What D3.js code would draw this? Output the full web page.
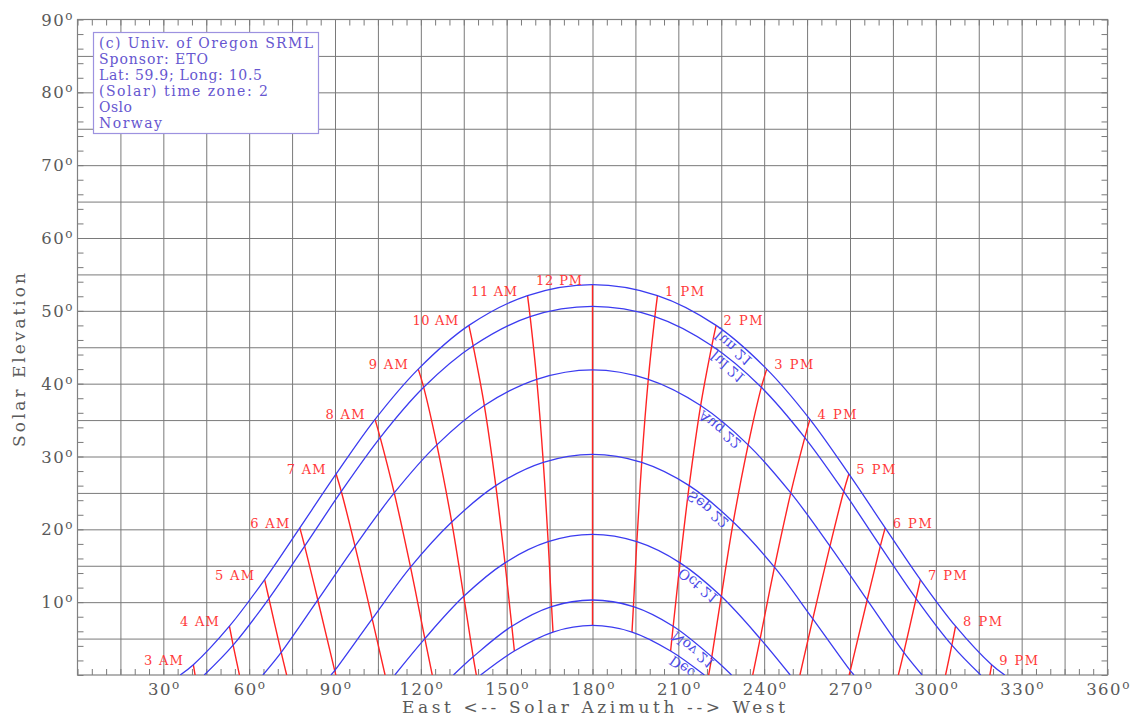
<!DOCTYPE html>
<html><head><meta charset="utf-8">
<script src="https://d3js.org/d3.v7.min.js"></script>
<style>
html,body{margin:0;padding:0;background:#fff;}
svg{display:block;}
text{font-family:"DejaVu Serif","Liberation Serif",serif;}
</style></head>
<body>
<svg id="chart" width="1137" height="719"></svg>
<script>
// ---------- data ----------
const hourLabels = ["3 AM","4 AM","5 AM","6 AM","7 AM","8 AM","9 AM","10 AM","11 AM","12 PM",
                    "1 PM","2 PM","3 PM","4 PM","5 PM","6 PM","7 PM","8 PM","9 PM"];
const dateLabels = ["Jun 21","Jul 21","Aug 22","Sep 22","Oct 21","Nov 21","Dec 21"];

// azimuth / elevation (degrees) of the sun at each hour, per date (null = below horizon)
const azJun = [40.5,53.1,65.4,77.7,90.4,104.0,119.1,136.8,157.3,180.0,202.7,223.2,240.9,256.0,269.6,282.3,294.6,306.9,319.5];
const elJun = [1.4,6.7,13.1,20.2,27.6,35.1,42.0,48.0,52.1,53.6,52.1,48.0,42.0,35.1,27.6,20.2,13.1,6.7,1.4];
const azJul = [null,54.4,66.9,79.4,92.2,105.8,121.0,138.3,158.2,180.0,201.8,221.7,239.0,254.2,267.8,280.6,293.1,305.6,null];
const elJul = [null,4.1,10.5,17.7,25.2,32.6,39.5,45.2,49.2,50.6,49.2,45.2,39.5,32.6,25.2,17.7,10.5,4.1,null];
const azAug = [null,null,71.2,84.0,97.0,110.7,125.6,142.2,160.5,180.0,199.5,217.8,234.4,249.3,263.0,276.0,288.8,null,null];
const elAug = [null,null,3.1,10.3,17.7,25.0,31.6,37.0,40.6,41.9,40.6,37.0,31.6,25.0,17.7,10.3,3.1,null,null];
const azSep = [null,null,null,89.9,103.0,116.4,130.8,146.2,162.8,180.0,197.2,213.8,229.2,243.6,257.0,270.1,null,null,null];
const elSep = [null,null,null,0.6,7.7,14.8,21.0,26.0,29.2,30.3,29.2,26.0,21.0,14.8,7.7,0.6,null,null,null];
const azOct = [null,null,null,null,null,121.4,135.0,149.4,164.5,180.0,195.5,210.6,225.0,238.6,null,null,null,null,null];
const elOct = [null,null,null,null,null,5.0,10.8,15.4,18.3,19.3,18.3,15.4,10.8,5.0,null,null,null,null,null];
const azNov = [null,null,null,null,null,null,138.3,151.8,165.7,180.0,194.3,208.2,221.7,null,null,null,null,null,null];
const elNov = [null,null,null,null,null,null,2.5,6.7,9.4,10.3,9.4,6.7,2.5,null,null,null,null,null,null];
const azDec = [null,null,null,null,null,null,null,152.7,166.2,180.0,193.8,207.3,null,null,null,null,null,null,null];
const elDec = [null,null,null,null,null,null,null,3.3,5.9,6.8,5.9,3.3,null,null,null,null,null,null,null];

// sunrise / sunset azimuths per date (elevation 0)
const sunriseAz = [35.9,44.3,64.8,88.6,110.9,131.4,140.9];
const sunsetAz  = [324.1,315.7,295.2,271.4,249.1,228.6,219.1];
// azimuth where each hour line meets the horizon (null = ends on the Dec 21 curve)
const hourHorizonAz = [41.1,56.6,73.1,90.3,107.5,124.0,139.4,null,null,null,null,null,220.6,236.0,252.5,269.7,286.9,303.4,318.9];

const xTickLabels = [30,60,90,120,150,180,210,240,270,300,330,360];
const yTickLabels = [10,20,30,40,50,60,70,80,90];

const legendLines = ["(c) Univ. of Oregon SRML","Sponsor: ETO","Lat: 59.9; Long: 10.5",
                     "(Solar) time zone: 2","Oslo","Norway"];
const legendWidths = [214,109,163,169,33,63];

const azByDate = [azJun,azJul,azAug,azSep,azOct,azNov,azDec];
const elByDate = [elJun,elJul,elAug,elSep,elOct,elNov,elDec];

// ---------- layout ----------
const L = 77.5, R = 1107.5, T = 19.5, B = 675;
const svg = d3.select("#chart");
const x = d3.scaleLinear().domain([0,360]).range([L,R]);
const y = d3.scaleLinear().domain([0,90]).range([B,T]);
const gridColor = "#7a7a7a";
const blue = "#3b3bf0", red = "#ff2424";

svg.append("defs").append("clipPath").attr("id","plotclip")
  .append("rect").attr("x",L).attr("y",T).attr("width",R-L).attr("height",B-T);

// grid
const gGrid = svg.append("g");
gGrid.append("g").attr("transform",`translate(0,${B})`)
  .call(d3.axisBottom(x).tickValues(d3.range(15,360,15)).tickSize(-(B-T)).tickFormat(""))
  .call(g=>g.select(".domain").remove())
  .call(g=>g.selectAll("line").attr("stroke",gridColor));
gGrid.append("g").attr("transform",`translate(${L},0)`)
  .call(d3.axisLeft(y).tickValues(d3.range(5,90,5)).tickSize(-(R-L)).tickFormat(""))
  .call(g=>g.select(".domain").remove())
  .call(g=>g.selectAll("line").attr("stroke",gridColor));

// minor ticks
const tk = 6;
svg.append("g").attr("transform",`translate(0,${B})`)
  .call(d3.axisBottom(x).tickValues(d3.range(0,361,5)).tickSize(-tk).tickFormat(""))
  .call(g=>g.select(".domain").remove()).call(g=>g.selectAll("line").attr("stroke",gridColor));
svg.append("g").attr("transform",`translate(0,${T})`)
  .call(d3.axisTop(x).tickValues(d3.range(0,361,5)).tickSize(-tk).tickFormat(""))
  .call(g=>g.select(".domain").remove()).call(g=>g.selectAll("line").attr("stroke",gridColor));
svg.append("g").attr("transform",`translate(${L},0)`)
  .call(d3.axisLeft(y).tickValues(d3.range(0,91,2)).tickSize(-tk).tickFormat(""))
  .call(g=>g.select(".domain").remove()).call(g=>g.selectAll("line").attr("stroke",gridColor));
svg.append("g").attr("transform",`translate(${R},0)`)
  .call(d3.axisRight(y).tickValues(d3.range(0,91,2)).tickSize(-tk).tickFormat(""))
  .call(g=>g.select(".domain").remove()).call(g=>g.selectAll("line").attr("stroke",gridColor));

// frame
svg.append("rect").attr("x",L).attr("y",T).attr("width",R-L).attr("height",B-T)
  .attr("fill","none").attr("stroke","#808080").attr("stroke-width",1.2);

// tick labels
const labelColor = "#5a5a5a";
function degLabel(sel){
  sel.text(null);
  sel.append("tspan").text(d=>d);
  sel.append("tspan").attr("font-size","12px").attr("dy","-6").text("o");
}
svg.append("g").selectAll("text").data(xTickLabels).join("text")
  .attr("x",d=>x(d)+1).attr("y",695).attr("text-anchor","middle")
  .attr("font-size","16.5px").attr("letter-spacing","1.5px").attr("fill",labelColor)
  .call(degLabel);
svg.append("g").selectAll("text").data(yTickLabels).join("text")
  .attr("x",74).attr("y",d=>y(d)+6).attr("text-anchor","end")
  .attr("font-size","16.5px").attr("letter-spacing","1.5px").attr("fill",labelColor)
  .call(degLabel);

// axis titles
svg.append("text").attr("x",593.5).attr("y",713).attr("text-anchor","middle")
  .attr("font-size","17px").attr("fill",labelColor)
  .attr("textLength",383).attr("lengthAdjust","spacing")
  .text("East <-- Solar Azimuth --> West");
svg.append("text").attr("transform","translate(25,360) rotate(-90)").attr("text-anchor","middle")
  .attr("font-size","17px").attr("fill",labelColor)
  .attr("textLength",174).attr("lengthAdjust","spacing")
  .text("Solar Elevation");

// ---------- curves ----------
const plot = svg.append("g").attr("clip-path","url(#plotclip)");
const line = d3.line().x(d=>x(d[0])).y(d=>y(d[1])).curve(d3.curveCatmullRom.alpha(0.5));

// hour lines
const hourPts = hourLabels.map((h,j)=>{
  const pts = [];
  for(let i=0;i<dateLabels.length;i++){
    if(azByDate[i][j]!==null) pts.push([azByDate[i][j], elByDate[i][j]]);
  }
  if(hourHorizonAz[j]!==null) pts.push([hourHorizonAz[j],0]);
  return pts;
});
plot.append("g").selectAll("path").data(hourPts).join("path")
  .attr("d",line).attr("fill","none").attr("stroke",red).attr("stroke-width",1.4);

// date curves
const datePts = dateLabels.map((d,i)=>{
  const pts = [[sunriseAz[i],0]];
  azByDate[i].forEach((a,j)=>{ if(a!==null) pts.push([a, elByDate[i][j]]); });
  pts.push([sunsetAz[i],0]);
  return pts;
});
plot.append("g").selectAll("path").data(datePts).join("path")
  .attr("d",line).attr("fill","none").attr("stroke",blue).attr("stroke-width",1.3);

// date labels at the 2 PM point, along the curve (glyphs flipped like the original)
dateLabels.forEach((lab,i)=>{
  const j = 11;
  const a0 = azByDate[i][j], e0 = elByDate[i][j];
  let a1, e1;
  if(azByDate[i][j+1]!==null){ a1 = azByDate[i][j+1]; e1 = elByDate[i][j+1]; }
  else { a1 = sunsetAz[i]; e1 = 0; }
  const px=x(a0), py=y(e0);
  const ang = Math.atan2(y(e1)-py, x(a1)-px)*180/Math.PI;
  plot.append("g").attr("transform",`translate(${px},${py}) rotate(${ang})`)
    .append("text").attr("transform","scale(1,-1)").attr("x",5).attr("y",-1.5)
    .attr("font-size","14px").attr("fill","#4b4be6").text(lab);
});

// hour labels at the Jun 21 point
const lblG = svg.append("g");
hourLabels.forEach((h,j)=>{
  const px = x(azJun[j]), py = y(elJun[j]);
  const isPM = j>=10;
  lblG.append("text")
    .attr("x", isPM ? px+7.5 : px-10.5).attr("y", py)
    .attr("text-anchor", isPM ? "start" : "end")
    .attr("font-size","13px").attr("fill","#ff3a3a")
    .attr("textLength", h.length>4 ? 46 : 39).attr("lengthAdjust","spacing")
    .text(h);
});

// legend box
const lg = svg.append("g");
lg.append("rect").attr("x",93.5).attr("y",32.5).attr("width",225).attr("height",101)
  .attr("fill","#fff").attr("stroke","#9d92e0").attr("stroke-width",1.2);
lg.selectAll("text").data(legendLines).join("text")
  .attr("x",99).attr("y",(d,i)=>48+16*i)
  .attr("font-size","14px").attr("fill","#6656d0")
  .attr("textLength",(d,i)=>legendWidths[i]).attr("lengthAdjust","spacing")
  .text(d=>d);
</script>
</body></html>
